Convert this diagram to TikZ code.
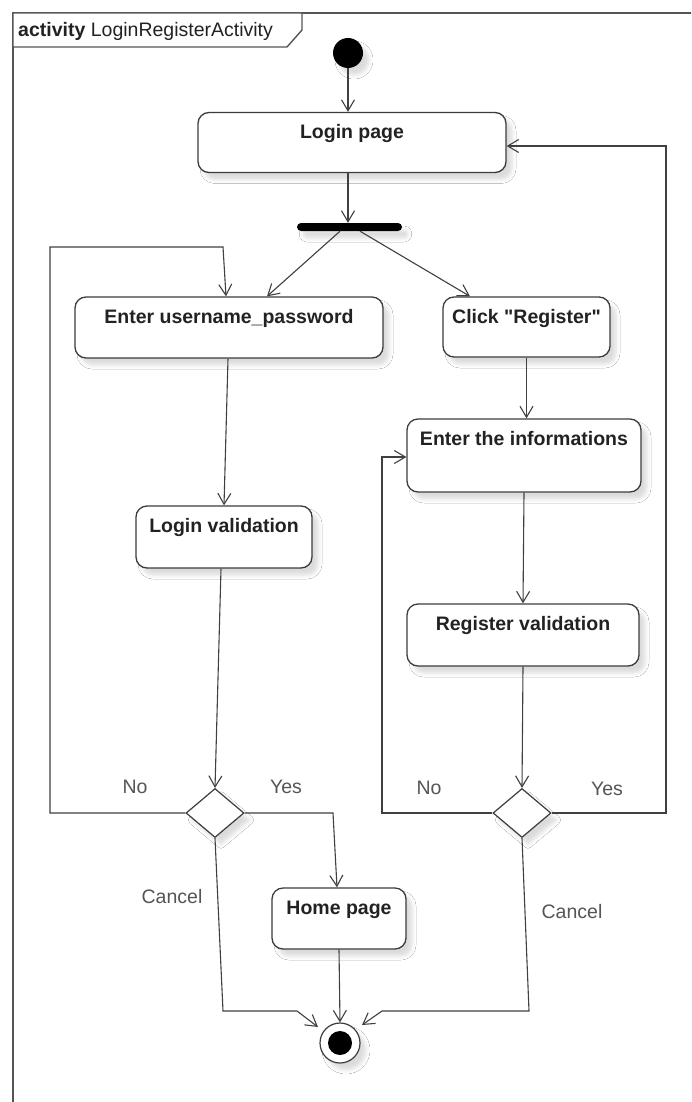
\documentclass[tikz,border=0pt]{standalone}
\usepackage{fontspec}
\setmainfont{Liberation Sans}[Ligatures=TeXOff]
\usetikzlibrary{arrows.meta,shapes.geometric,shadows.blur,calc}

\definecolor{framec}{HTML}{555555}
\definecolor{boxc}{HTML}{3C3C3C}
\definecolor{linec}{HTML}{404040}
\definecolor{labelc}{HTML}{555555}
\definecolor{textc}{HTML}{222222}

\newcommand{\umlfont}{\fontsize{19.5}{23}\selectfont}

\tikzset{
  shade/.style={blur shadow={shadow xshift=6pt, shadow yshift=-7pt,
      shadow blur radius=4pt, shadow opacity=14}},
  action/.style={draw=boxc, line width=1.3pt, rounded corners=11pt, fill=white,
      shade, inner xsep=0pt, inner ysep=0pt, text=textc,
      font=\umlfont\bfseries, text height=26pt},
  decision/.style={diamond, draw=boxc, line width=1.2pt, fill=white, shade,
      inner sep=0pt, minimum width=58pt, minimum height=49pt},
  forkbar/.style={fill=black, rounded corners=4pt, inner sep=0pt,
      minimum width=105pt, minimum height=8pt, shade},
  startnode/.style={circle, fill=black, inner sep=0pt, minimum size=30pt, shade},
  endnode/.style={circle, draw=boxc, line width=1.2pt, fill=white, inner sep=0pt,
      minimum size=40pt, shade},
  flow/.style={draw=linec, line width=1.1pt,
      -{Straight Barb[length=11pt,width=13pt,line width=1.1pt]}},
  guard/.style={text=labelc, font=\umlfont, inner sep=0pt},
}

\begin{document}
\begin{tikzpicture}[x=1pt,y=-1pt]
  \clip (0,0) rectangle (691,1102);
  \fill[white] (0,0) rectangle (691,1102);

  % diagram frame and its name tab
  \draw[framec, line width=1.4pt] (13,1120) -- (13,13) -- (720,13);
  \draw[framec, line width=1.4pt, fill=white]
    (13,13) -- (302,13) -- (302,30) -- (287,47) -- (13,47) -- cycle;
  \node[anchor=west, inner sep=0pt, text=textc, font=\umlfont] (title) at (18,31)
    {\textbf{activity} LoginRegisterActivity};

  % nodes
  \node[startnode] (init) at (348,53) {};
  \node[action, minimum width=308pt, text depth=34pt] (login) at (352,142.5) {Login page};
  \node[forkbar] (fork) at (349.5,227) {};
  \node[action, minimum width=308pt, text depth=35pt] (user) at (229,327.5) {Enter username\_password};
  \node[action, minimum width=167pt, text depth=34pt] (reg) at (526.5,327) {Click "Register"};
  \node[action, minimum width=234pt, text depth=47pt] (info) at (524,455.5) {Enter the informations};
  \node[action, minimum width=176pt, text depth=36pt] (lval) at (224,537) {Login validation};
  \node[action, minimum width=232pt, text depth=36pt] (rval) at (523,635) {Register validation};
  \node[decision] (d1) at (215,813) {};
  \node[decision] (d2) at (522,813) {};
  \node[action, minimum width=134pt, text depth=35pt] (home) at (339,918.5) {Home page};
  \node[endnode] (final) at (340,1043) {};
  \fill[black] (final.center) circle[radius=12pt];

  % bend points of the routed flows
  \coordinate (noL1) at (50,247);
  \coordinate (noL2) at (223,247);
  \coordinate (yesL) at (333,813);
  \coordinate (canL1) at (223,1011);
  \coordinate (canL2) at (297,1011);
  \coordinate (noR) at (382,457);
  \coordinate (yesR) at (666,146);
  \coordinate (canR1) at (529,1011);
  \coordinate (canR2) at (382,1011);

  % flows
  \draw[flow] (init.south) -- (init.south |- login.north);
  \draw[flow] (init.south |- login.south) -- (init.south |- fork.north);
  \draw[flow] ([xshift=-9.5pt]fork.south) -- ([xshift=38pt]user.north);
  \draw[flow] ([xshift=10.5pt]fork.south) -- ([xshift=-56.5pt]reg.north);
  \draw[flow] ([xshift=-1pt]user.south) -- (lval.north);
  \draw[flow] (reg.south) -- (reg.south |- info.north);
  \draw[flow] (info.south) -- (rval.north);
  \draw[flow] ([xshift=-3pt]lval.south) -- (d1.north);
  \draw[flow] (rval.south) -- (d2.north);

  \draw[flow] (d1.west) -| (noL1) -- (noL2) -- ([xshift=-3pt]user.north);
  \draw[flow] (d1.east) -- (yesL) -- ([xshift=-2pt]home.north);
  \draw[flow] (d1.south) -- (canL1) -- (canL2) -- ($(final.center)+(-22,-16)$);
  \draw[flow] (home.south) -- (final.north);
  \draw[flow] (d2.west) -| (noR) -- (noR -| info.west);
  \draw[flow] (d2.east) -| (yesR) -- (yesR -| login.east);
  \draw[flow] (d2.south) -- (canR1) -- (canR2) -- ($(final.center)+(22,-18)$);

  % guards
  \node[guard] (gNoL) at (135,787) {No};
  \node[guard] (gYesL) at (286,787) {Yes};
  \node[guard] (gNoR) at (429,788) {No};
  \node[guard] (gYesR) at (607,789) {Yes};
  \node[guard] (gCanL) at (172,897) {Cancel};
  \node[guard] (gCanR) at (572,912) {Cancel};
\end{tikzpicture}
\end{document}
